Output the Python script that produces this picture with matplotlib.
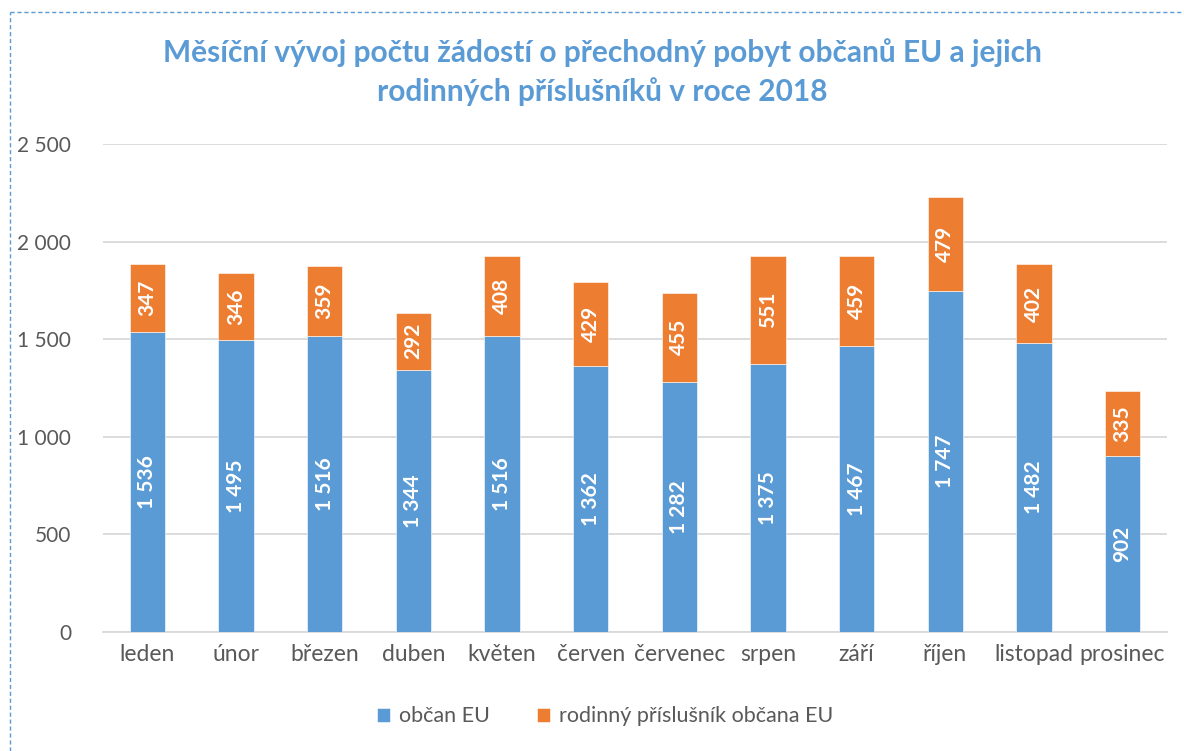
import matplotlib
matplotlib.use("Agg")
import matplotlib.pyplot as plt
from matplotlib.lines import Line2D
import numpy as np

plt.rcParams['font.family'] = ['Lato', 'DejaVu Sans']

# --- DATA ---
months = ["leden", "únor", "březen", "duben", "květen", "červen",
          "červenec", "srpen", "září", "říjen", "listopad", "prosinec"]
obcan_eu = [1536, 1495, 1516, 1344, 1516, 1362, 1282, 1375, 1467, 1747, 1482, 902]
rodinny = [347, 346, 359, 292, 408, 429, 455, 551, 459, 479, 402, 335]
yticks = [0, 500, 1000, 1500, 2000, 2500]

BLUE = "#5B9BD5"
ORANGE = "#ED7D31"
GRAY = "#595959"
GRID = "#D9D9D9"


def fmt(v):
    return f"{v:,}".replace(",", " ")


fig = plt.figure(figsize=(11.84, 7.51), dpi=100)
ax = fig.add_axes([0.087, 0.1585, 0.8986, 0.6498])

x = np.arange(len(months))
w = 0.4
b1 = ax.bar(x, obcan_eu, w, color=BLUE, edgecolor="white", linewidth=0.4,
            label="občan EU", zorder=3)
b2 = ax.bar(x, rodinny, w, bottom=obcan_eu, color=ORANGE, edgecolor="white",
            linewidth=0.4, label="rodinný příslušník občana EU", zorder=3)

for i in range(len(months)):
    ax.text(x[i], obcan_eu[i] / 2, fmt(obcan_eu[i]), rotation=90,
            ha="center", va="center", color="white", fontsize=15,
            fontweight="bold", zorder=4)
    ax.text(x[i], obcan_eu[i] + rodinny[i] / 2, fmt(rodinny[i]), rotation=90,
            ha="center", va="center", color="white", fontsize=15,
            fontweight="bold", zorder=4)

ax.set_xlim(-0.5, len(months) - 0.5)
ax.set_ylim(0, 2500)
ax.set_yticks(yticks)
ax.set_yticklabels([fmt(v) for v in yticks])
ax.set_xticks(x)
ax.set_xticklabels(months)
ax.tick_params(axis="both", length=0, colors=GRAY)
ax.tick_params(axis="y", labelsize=15, pad=23)
ax.tick_params(axis="x", labelsize=16.5, pad=9)
ax.grid(axis="y", color=GRID, linewidth=1.3, zorder=0)
for s in ["top", "right", "left"]:
    ax.spines[s].set_visible(False)
ax.spines["bottom"].set_color(GRID)
ax.spines["bottom"].set_linewidth(1.3)

fig.text(0.509, 0.904,
         "Měsíční vývoj počtu žádostí o přechodný pobyt občanů EU a jejich\nrodinných příslušníků v roce 2018",
         ha="center", va="center", fontsize=21.5, fontweight="bold",
         color=BLUE, linespacing=1.45)

fig.legend(handles=[b1, b2], loc="center", bbox_to_anchor=(0.511, 0.046),
           ncol=2, frameon=False, fontsize=15.5, labelcolor=GRAY,
           handlelength=0.6, handleheight=0.6, handletextpad=0.4,
           columnspacing=2.2)

# dashed frame (top and left edges visible)
fig.add_artist(Line2D([10 / 1184, 1.0], [1 - 12 / 751, 1 - 12 / 751],
                      color=BLUE, linestyle=(0, (3, 2)), linewidth=1.0))
fig.add_artist(Line2D([10 / 1184, 10 / 1184], [0.0, 1 - 12 / 751],
                      color=BLUE, linestyle=(0, (3, 2)), linewidth=1.0))

fig.savefig("out.png", dpi=100)
